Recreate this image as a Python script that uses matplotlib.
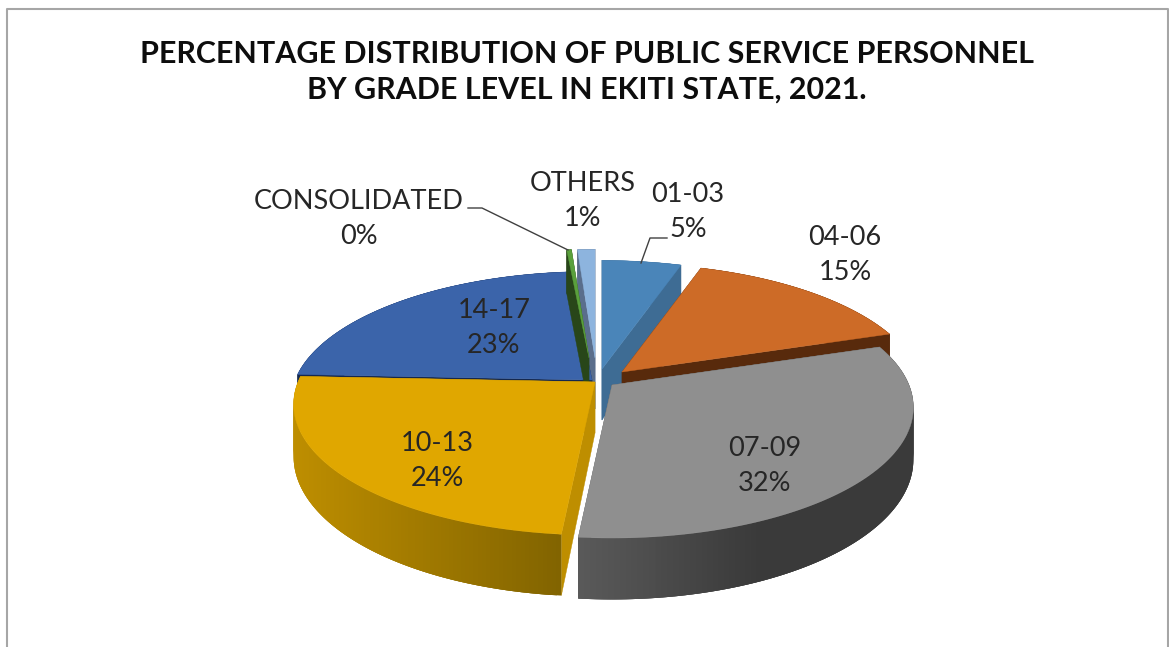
import numpy as np
import matplotlib
matplotlib.use("Agg")
import matplotlib.pyplot as plt
from matplotlib.patches import Polygon

# slice data, clockwise from 12 o'clock
grades = ["01-03", "04-06", "07-09", "10-13", "14-17", "CONSOLIDATED", "OTHERS"]
shares = [5.0, 14.9, 31.6, 24.2, 22.9, 0.3, 1.1]
title = "PERCENTAGE DISTRIBUTION OF PUBLIC SERVICE PERSONNEL\nBY GRADE LEVEL IN EKITI STATE, 2021."

top_cols = ["#4a85b9", "#cd6b27", "#8f8f8f", "#e0a700", "#3b64aa", "#5aa03c", "#8db4de"]
side_cols = ["#3e6c94", "#582a0c", "#5a5a5a", "#be8e00", "#14284f", "#284619", "#5a6e8c"]
rim_end_cols = ["#3e6c94", "#582a0c", "#3a3a3a", "#826400", "#14284f", "#284619", "#5a6e8c"]

# explode of each slice, pixels from the pie centre
shift_x = [2, 22, 12, -5, -8, -11, -5]
shift_y = [-9, -6, 7, 4, 2, -20, -20]
label_x = [688, 845, 765, 437, 494, 359, 583]
label_y = [212, 255, 466, 461, 328, 219, 201]

cx, cy = 600, 378
rx, ry = 297, 127
k = 0.17      # perspective
depth = 51

fig = plt.figure(figsize=(11.69, 6.47), dpi=100)
ax = fig.add_axes([0, 0, 1, 1])
ax.set_xlim(0, 1169)
ax.set_ylim(647, 0)
ax.axis("off")


def project(theta, r, dx, dy, lower=False):
    u = r * np.sin(theta)
    v = r * np.cos(theta)
    w = 1 + k * v
    px = cx + dx + rx * u / w
    py = cy + dy - ry * v / w
    if lower:
        py = py + depth / w
    return px, py


def mix(c1, c2, t):
    a = np.array(matplotlib.colors.to_rgb(c1))
    b = np.array(matplotlib.colors.to_rgb(c2))
    return tuple(a + (b - a) * t)


total = sum(shares)
edges = np.cumsum([0] + shares) / total * 2 * np.pi

# back slices first so the front ones cover them
for n, i in enumerate([6, 0, 1, 4, 5, 3, 2]):
    th = np.linspace(edges[i], edges[i + 1], 120)
    dx, dy = shift_x[i], shift_y[i]
    z = n * 2 + 2
    tx, ty = project(th, 1, dx, dy)
    bx, by = project(th, 1, dx, dy, lower=True)
    ax0, ay0 = project(0, 0, dx, dy)
    ax1, ay1 = project(0, 0, dx, dy, lower=True)

    # the two cut faces
    for j in [0, -1]:
        ax.add_patch(Polygon([(ax0, ay0), (tx[j], ty[j]), (bx[j], by[j]), (ax1, ay1)],
                             fc=side_cols[i], ec=side_cols[i], lw=0.3, zorder=z))
    # outer wall in strips, gets darker going along x
    span = max(bx.max() - bx.min(), 1)
    for j in range(len(th) - 1):
        if i == 2:
            t = min((bx[j] - 580) / 180, 1)
            col = mix(side_cols[i], rim_end_cols[i], max(t, 0))
        else:
            col = mix(side_cols[i], rim_end_cols[i], (bx[j] - bx.min()) / span)
        e = min(j + 3, len(th) - 1)
        ax.add_patch(Polygon([(tx[j], ty[j]), (tx[e], ty[e]), (bx[e], by[e]), (bx[j], by[j])],
                             fc=col, ec="none", zorder=z))
    # top face
    ax.add_patch(Polygon(np.column_stack([np.r_[ax0, tx], np.r_[ay0, ty]]),
                         fc=top_cols[i], ec=top_cols[i], lw=0.3, zorder=z + 1))

# leader lines
ax.plot([468, 482, 568], [208, 208, 250], color="#404040", lw=1, zorder=30)
ax.plot([667, 650, 641], [238, 238, 263], color="#404040", lw=1, zorder=30)

for i, name in enumerate(grades):
    ax.text(label_x[i], label_y[i], f"{name}\n{shares[i]:.0f}%", ha="center", va="center",
            fontsize=19.5, family="Lato", color="#262626", linespacing=1.52, zorder=40)

ax.text(587, 72, title, ha="center", va="center", fontsize=21.85, family="Lato",
        fontweight="bold", color="#0d0d0d", linespacing=1.33, zorder=40)

# chart frame, open at the bottom
ax.plot([6.5, 6.5, 1167.5, 1167.5], [647, 8.5, 8.5, 647], color="#a6a6a6", lw=1.5, zorder=1)

fig.savefig("out.png", dpi=100, facecolor="white")
